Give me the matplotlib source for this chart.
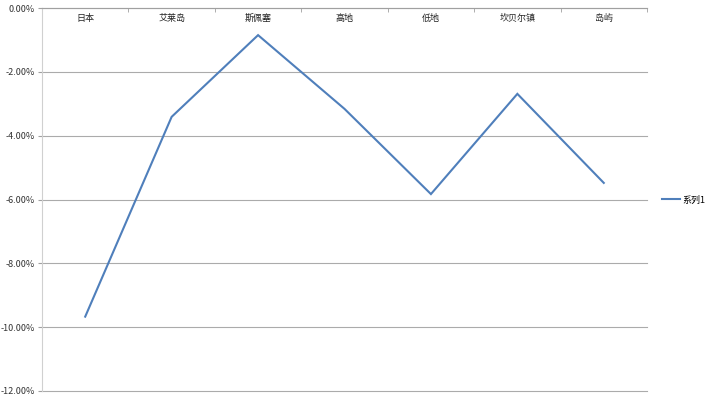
import matplotlib
matplotlib.use("Agg")
import matplotlib.pyplot as plt
from matplotlib.ticker import FuncFormatter, FixedLocator

categories = ["日本", "艾莱岛", "斯佩塞", "高地", "低地", "坎贝尔镇", "岛屿"]
values = [-9.67, -3.41, -0.85, -3.16, -5.83, -2.69, -5.48]
series_name = "系列1"
yticks = [0, -2, -4, -6, -8, -10, -12]

plt.rcParams['font.family'] = ['Noto Sans CJK SC', 'DejaVu Sans']

fig = plt.figure(figsize=(7.08, 4.0), dpi=100)
ax = fig.add_axes([42/708, 1-391/400, (647-42)/708, (391-8)/400])

x = list(range(len(categories)))
line, = ax.plot(x, values, color='#4f7fbb', lw=1.5, solid_joinstyle='miter')

ax.set_xlim(-0.5, len(categories)-0.5)
ax.set_ylim(-12, 0)
ax.set_yticks(yticks)
ax.yaxis.set_major_formatter(FuncFormatter(lambda v, p: f"{v:.2f}%"))
ax.tick_params(axis='y', labelsize=6.5, length=3, color='#a0a0a0', pad=2, labelcolor='#333333')
ax.grid(axis='y', color='#ababab', lw=0.8)
for gl in ax.yaxis.get_gridlines():
    gl.set_clip_on(False)
ax.set_axisbelow(True)

# category axis at the top (0%)
ax.set_xticks([])
ax.xaxis.set_minor_locator(FixedLocator([i - 0.5 for i in range(len(categories)+1)]))
ax.tick_params(axis='x', which='minor', top=True, bottom=False, direction='in', length=3, color='#a0a0a0')
for i, c in enumerate(categories):
    ax.text(i, -0.32, c, ha='center', va='center', fontsize=6.5, color='#222222')

for s in ['right', 'bottom']:
    ax.spines[s].set_visible(False)
ax.spines['top'].set_color('#a0a0a0')
ax.spines['top'].set_linewidth(0.8)
ax.spines['left'].set_color('#d0d0d0')
ax.spines['left'].set_linewidth(0.8)

fig.legend([line], [series_name], loc='center left', bbox_to_anchor=(657/708, 1-200/400),
           frameon=False, fontsize=6.5, handlelength=2.0, handletextpad=0.3, borderpad=0)

fig.savefig("out.png", dpi=100)
